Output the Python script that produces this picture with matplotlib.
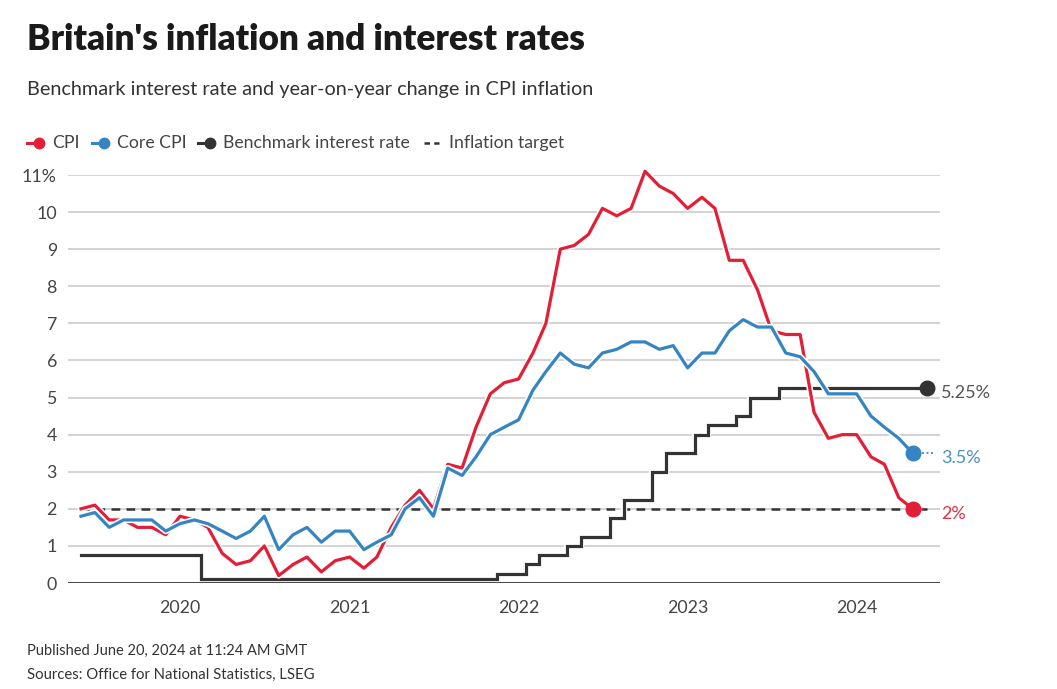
import pandas as pd
import matplotlib
matplotlib.use('Agg')
import matplotlib.pyplot as plt
import matplotlib.patheffects as pe
from matplotlib.lines import Line2D

plt.rcParams['font.family'] = ['Lato', 'DejaVu Sans']

# Monthly data, June 2019 onward
cpi = [2.0, 2.1, 1.7, 1.7, 1.5, 1.5, 1.3,
       1.8, 1.7, 1.5, 0.8, 0.5, 0.6, 1.0, 0.2, 0.5, 0.7, 0.3, 0.6,
       0.7, 0.4, 0.7, 1.5, 2.1, 2.5, 2.0, 3.2, 3.1, 4.2, 5.1, 5.4,
       5.5, 6.2, 7.0, 9.0, 9.1, 9.4, 10.1, 9.9, 10.1, 11.1, 10.7, 10.5,
       10.1, 10.4, 10.1, 8.7, 8.7, 7.9, 6.8, 6.7, 6.7, 4.6, 3.9, 4.0,
       4.0, 3.4, 3.2, 2.3, 2.0]
core_cpi = [1.8, 1.9, 1.5, 1.7, 1.7, 1.7, 1.4,
            1.6, 1.7, 1.6, 1.4, 1.2, 1.4, 1.8, 0.9, 1.3, 1.5, 1.1, 1.4,
            1.4, 0.9, 1.1, 1.3, 2.0, 2.3, 1.8, 3.1, 2.9, 3.4, 4.0, 4.2,
            4.4, 5.2, 5.7, 6.2, 5.9, 5.8, 6.2, 6.3, 6.5, 6.5, 6.3, 6.4,
            5.8, 6.2, 6.2, 6.8, 7.1, 6.9, 6.9, 6.2, 6.1, 5.7, 5.1, 5.1,
            5.1, 4.5, 4.2, 3.9, 3.5]
bank_rate = [0.75, 0.75, 0.75, 0.75, 0.75, 0.75, 0.75,
             0.75, 0.75, 0.1, 0.1, 0.1, 0.1, 0.1, 0.1, 0.1, 0.1, 0.1, 0.1,
             0.1, 0.1, 0.1, 0.1, 0.1, 0.1, 0.1, 0.1, 0.1, 0.1, 0.1, 0.25,
             0.25, 0.5, 0.75, 0.75, 1.0, 1.25, 1.25, 1.75, 2.25, 2.25, 3.0, 3.5,
             3.5, 4.0, 4.25, 4.25, 4.5, 5.0, 5.0, 5.25, 5.25, 5.25, 5.25, 5.25,
             5.25, 5.25, 5.25, 5.25, 5.25, 5.25]
inflation_target = 2.0

cpi_dates = pd.date_range('2019-06-01', periods=len(cpi), freq='MS')
rate_dates = pd.date_range('2019-06-01', periods=len(bank_rate), freq='MS')

y_ticks = list(range(0, 12))
y_labels = ['0', '1', '2', '3', '4', '5', '6', '7', '8', '9', '10', '11%']
year_ticks = ['2020', '2021', '2022', '2023', '2024']

RED = '#e21f36'
BLUE = '#3685c2'
BLACK = '#333333'
GRID = '#cccccc'
TEXT = '#444444'

W, H = 1057, 689
fig = plt.figure(figsize=(W / 100, H / 100), dpi=100)
ax = fig.add_axes([68 / W, (H - 583) / H, (940 - 68) / W, (583 - 175) / H])


def fx(x):
    return x / W


def fy(y):
    return 1 - y / H


halo = [pe.Stroke(linewidth=4.6, foreground='white'), pe.Normal()]

# Gridlines and zero line
for t in y_ticks[1:]:
    ax.axhline(t, color=GRID, lw=1.2, zorder=1)
ax.axhline(0, color='#4a4a4a', lw=2.2, zorder=6)

# Inflation target
ax.plot([rate_dates[0], rate_dates[-1]], [inflation_target] * 2,
        color=BLACK, lw=1.8, dashes=(3.5, 2.5), zorder=2)

# Benchmark rate as steps, then the two CPI measures
ax.plot(rate_dates, bank_rate, drawstyle='steps-mid', color=BLACK, lw=2.3,
        zorder=3, solid_joinstyle='miter', path_effects=halo, clip_on=False)
ax.plot(cpi_dates, cpi, color=RED, lw=2.3, zorder=4, path_effects=halo, clip_on=False)
ax.plot(cpi_dates, core_cpi, color=BLUE, lw=2.3, zorder=5, path_effects=halo, clip_on=False)

# End dots, connectors and labels
end_x = rate_dates[-1]
ax.plot([cpi_dates[-1], end_x + pd.Timedelta(days=-3)], [cpi[-1]] * 2,
        color=RED, lw=1.2, ls=(0, (1.2, 1.5)), zorder=4)
ax.plot([cpi_dates[-1], end_x + pd.Timedelta(days=18)], [core_cpi[-1]] * 2,
        color=BLUE, lw=1.2, ls=(0, (1.2, 1.5)), zorder=5)
for xd, v, c in [(cpi_dates[-1], cpi[-1], RED), (cpi_dates[-1], core_cpi[-1], BLUE),
                 (end_x, bank_rate[-1], BLACK)]:
    ax.plot([xd], [v], 'o', ms=10.5, color=c, zorder=7, clip_on=False)

for v, lab, c in [(bank_rate[-1], '5.25%', '#555555'), (core_cpi[-1], '3.5%', '#4a90c2'),
                  (cpi[-1], '2%', '#e0304a')]:
    ax.annotate(lab, xy=(end_x, v), xytext=(14, -5), textcoords='offset pixels',
                fontsize=13, color=c, va='center', ha='left', annotation_clip=False)

ax.set_ylim(0, 11)
ax.set_xlim(pd.Timestamp('2019-05-04'), pd.Timestamp('2024-06-29'))
ax.set_yticks(y_ticks)
ax.set_yticklabels(y_labels)
ax.set_xticks([pd.Timestamp(y + '-01-01') for y in year_ticks])
ax.set_xticklabels(year_ticks)
ax.tick_params(axis='both', length=0, labelsize=12.8, labelcolor=TEXT)
ax.tick_params(axis='y', pad=8)
ax.tick_params(axis='x', pad=12)
for s in ax.spines.values():
    s.set_visible(False)
ax.patch.set_visible(False)

# Title block
fig.text(fx(27), fy(50), "Britain's inflation and interest rates", fontsize=25.3,
         fontweight='heavy', color='#1a1a1a', va='baseline')
fig.text(fx(27), fy(95), 'Benchmark interest rate and year-on-year change in CPI inflation',
         fontsize=14.3, color='#333333', va='baseline')

# Legend
leg_y = fy(143)
items = [(27, RED, 'CPI', 'dot'), (92, BLUE, 'Core CPI', 'dot'),
         (198, BLACK, 'Benchmark interest rate', 'dot'), (424, BLACK, 'Inflation target', 'dash')]
for x0, c, lab, kind in items:
    if kind == 'dot':
        fig.add_artist(Line2D([fx(x0), fx(x0 + 12)], [leg_y, leg_y], color=c, lw=2.2))
        fig.add_artist(Line2D([fx(x0 + 12)], [leg_y], marker='o', ms=7.5, color=c))
    else:
        fig.add_artist(Line2D([fx(x0), fx(x0 + 15)], [leg_y, leg_y], color=c, lw=1.8,
                              dashes=(2.2, 1.7)))
    fig.text(fx(x0 + 25), leg_y, lab, fontsize=12.7, color=TEXT, va='center')

# Footer
fig.text(fx(27), fy(651), 'Published June 20, 2024 at 11:24 AM GMT', fontsize=10.5,
         color='#333333', va='center')
fig.text(fx(27), fy(675), 'Sources: Office for National Statistics, LSEG', fontsize=10.7,
         color='#333333', va='center')

fig.savefig('out.png', dpi=100, facecolor='white')
